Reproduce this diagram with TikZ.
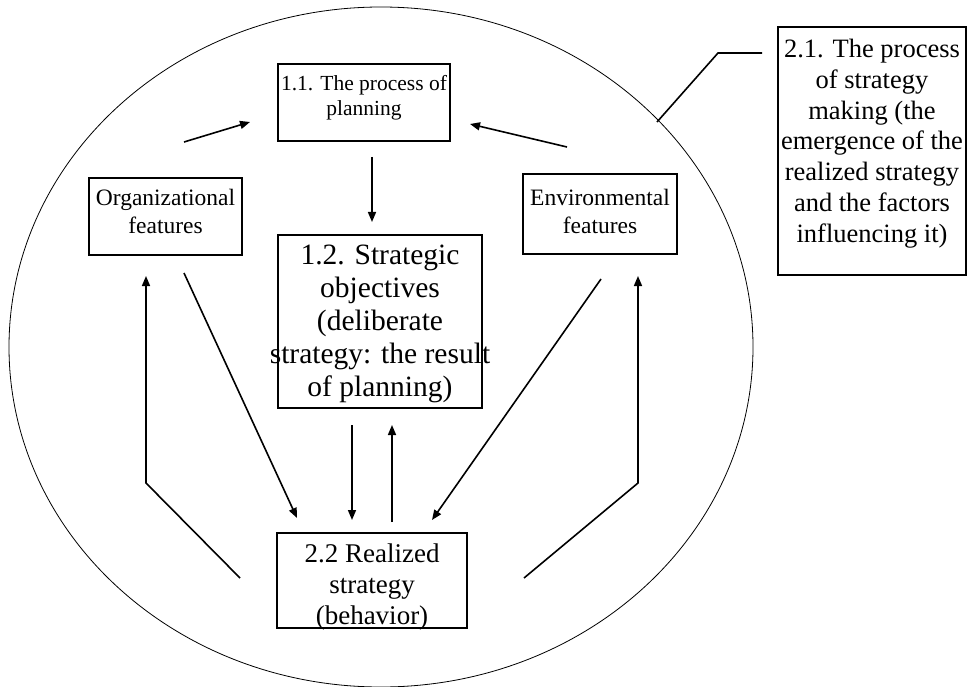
\documentclass[tikz,border=0pt]{standalone}
\usepackage{fontspec}
\setmainfont{Liberation Serif}
\usetikzlibrary{arrows.meta}
\begin{document}
\begin{tikzpicture}[x=1pt,y=-1pt,
  box/.style={draw, line width=1.6pt, inner sep=0pt},
  lbl/.style={inner sep=0pt, align=center, anchor=north},
  arr/.style={line width=1.6pt, -{Triangle[length=10pt,width=8pt]}},
  link/.style={line width=1.6pt},
  oval/.style={line width=0.8pt}]
\useasboundingbox (0,0) rectangle (969,687);

% outer ellipse: the process of strategy making
\draw[oval] (381,347) ellipse [x radius=372, y radius=340];

% boxes
\node[box, minimum width=172, minimum height=77] (plan) at (364,102.5) {};
\node[box, minimum width=153, minimum height=77] (org) at (165.5,216.5) {};
\node[box, minimum width=154, minimum height=80] (env) at (600,214) {};
\node[box, minimum width=204, minimum height=173] (obj) at (380,321.5) {};
\node[box, minimum width=190, minimum height=95] (real) at (372,580.5) {};
\node[box, minimum width=188, minimum height=248] (make) at (872,151) {};

% texts
\node[lbl, font={\fontsize{21.5}{25}\selectfont}] (tplan) at (364,75)
  {1.1. The process of\\planning};
\node[lbl, font={\fontsize{23.5}{28}\selectfont}] (torg) at (165.5,189)
  {Organizational\\features};
\node[lbl, font={\fontsize{23.5}{28}\selectfont}] (tenv) at (600,189)
  {Environmental\\features};
\node[lbl, font={\fontsize{29.5}{33}\selectfont}] (tobj) at (380,245)
  {1.2. Strategic\\objectives\\(deliberate\\strategy: the result\\of planning)};
\node[lbl, font={\fontsize{27}{31}\selectfont}] (treal) at (372,543.5)
  {2.2 Realized\\strategy\\(behavior)};
\node[lbl, font={\fontsize{26.5}{30.8}\selectfont}] (tmake) at (872,39)
  {2.1. The process\\of strategy\\making (the\\emergence of the\\realized strategy\\and the factors\\influencing it)};

% connector end points
\coordinate (op1) at (184,142);  \coordinate (op2) at (250,122);
\coordinate (ep1) at (567,147);  \coordinate (ep2) at (470,124);
\coordinate (po1) at (372,157);  \coordinate (po2) at (372,222);
\coordinate (or1) at (352,425);  \coordinate (or2) at (352,520);
\coordinate (ro1) at (392,522);  \coordinate (ro2) at (392,425);
\coordinate (orr1) at (184,273); \coordinate (orr2) at (297,518);
\coordinate (er1) at (601,279);  \coordinate (er2) at (432,520);
\coordinate (lb1) at (240,578);  \coordinate (lb2) at (146,483); \coordinate (lb3) at (146,276);
\coordinate (rb1) at (524,578);  \coordinate (rb2) at (638,483); \coordinate (rb3) at (638,276);
\coordinate (mk1) at (762,53);   \coordinate (mk2) at (718,53);  \coordinate (mk3) at (657,122);

% arrows
\draw[arr] (op1) -- (op2);
\draw[arr] (ep1) -- (ep2);
\draw[arr] (po1) -- (po2);
\draw[arr] (or1) -- (or2);
\draw[arr] (ro1) -- (ro2);
\draw[arr] (orr1) -- (orr2);
\draw[arr] (er1) -- (er2);
\draw[arr] (lb1) -- (lb2) -- (lb3);
\draw[arr] (rb1) -- (rb2) -- (rb3);

% pointer from the label box to the ellipse
\draw[link] (mk1) -- (mk2) -- (mk3);
\end{tikzpicture}
\end{document}
